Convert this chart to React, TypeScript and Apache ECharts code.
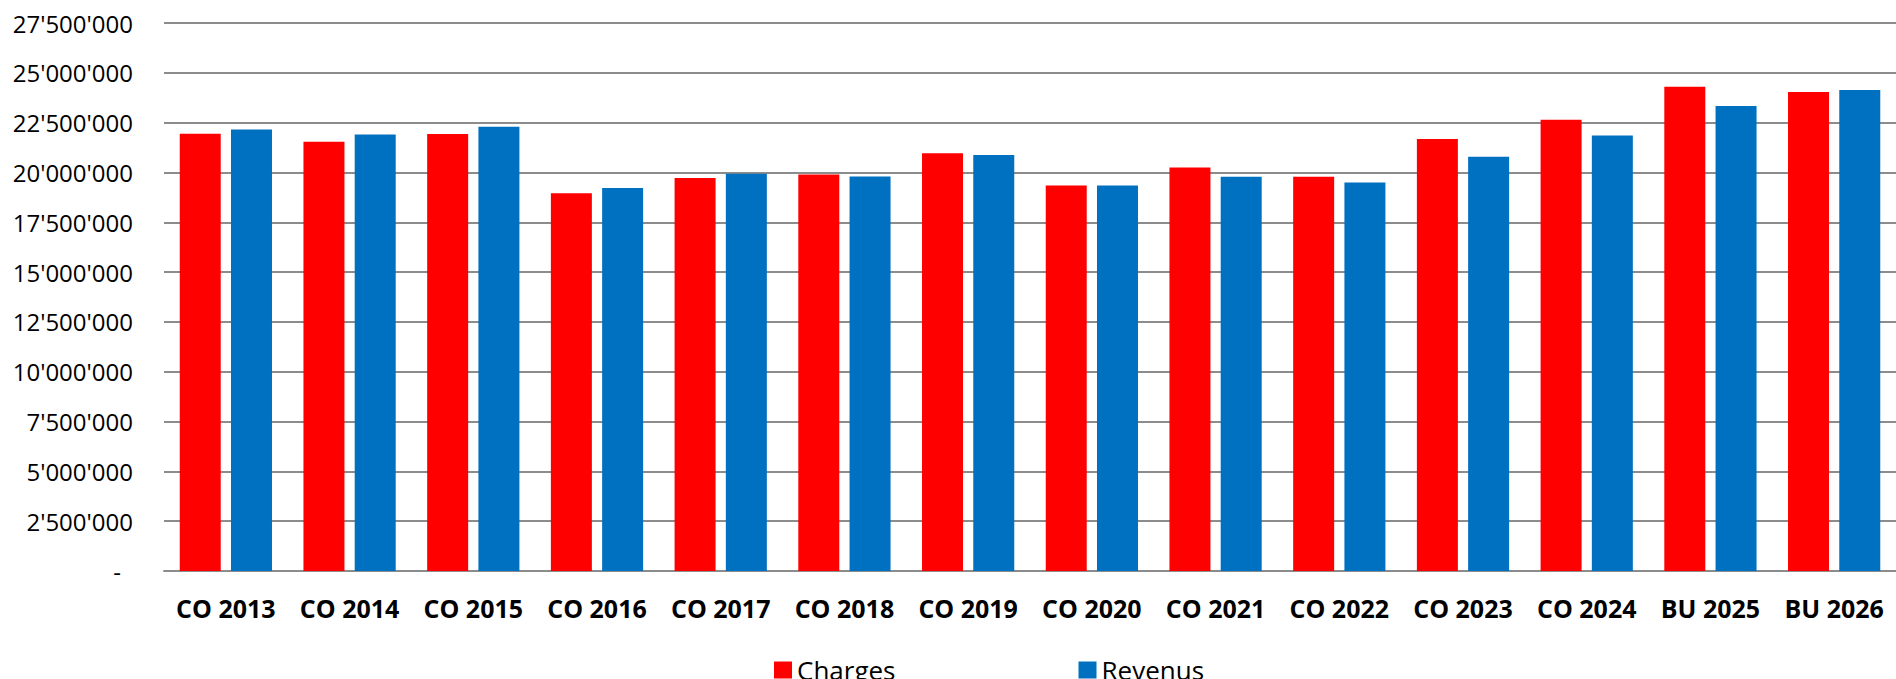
import React, { useEffect, useRef } from "react";
import * as echarts from "echarts";

const categories = [
  "CO 2013", "CO 2014", "CO 2015", "CO 2016", "CO 2017", "CO 2018", "CO 2019",
  "CO 2020", "CO 2021", "CO 2022", "CO 2023", "CO 2024", "BU 2025", "BU 2026",
];
const charges = [
  21940000, 21540000, 21930000, 18960000, 19720000, 19900000, 20970000,
  19350000, 20250000, 19780000, 21680000, 22650000, 24300000, 24040000,
];
const revenus = [
  22160000, 21910000, 22290000, 19220000, 19930000, 19800000, 20870000,
  19340000, 19780000, 19500000, 20790000, 21860000, 23330000, 24140000,
];
const seriesNames = ["Charges", "Revenus"];
const yMax = 27500000;
const yInterval = 2500000;

function fmt(v: number): string {
  if (v === 0) return "{z|-}";
  return String(Math.round(v)).replace(/\B(?=(\d{3})+(?!\d))/g, "'");
}

export default function App() {
  const ref = useRef<HTMLDivElement>(null);
  useEffect(() => {
    if (!ref.current) return;
    const chart = echarts.init(ref.current, null, { renderer: "svg" });
    chart.setOption({
      animation: false,
      backgroundColor: "#ffffff",
      grid: { left: 164, right: 0, top: 23, bottom: 108, containLabel: false },
      legend: {
        left: 769,
        top: 652,
        itemWidth: 18,
        itemHeight: 17,
        itemGap: 183,
        icon: "rect",
        textStyle: { fontFamily: "Open Sans", fontSize: 26, color: "#000" },
        data: seriesNames,
      },
      xAxis: {
        type: "category",
        data: categories,
        axisTick: { show: false },
        axisLine: { lineStyle: { color: "#8c8c8c", width: 2 } },
        axisLabel: {
          margin: 24,
          fontFamily: "Open Sans",
          fontWeight: "bold",
          fontSize: 25,
          color: "#000",
          interval: 0,
        },
      },
      yAxis: {
        type: "value",
        min: 0,
        max: yMax,
        interval: yInterval,
        axisLine: { show: false },
        axisTick: { show: false },
        splitLine: { lineStyle: { color: "#8c8c8c", width: 2 } },
        axisLabel: {
          margin: 31,
          fontFamily: "Open Sans",
          fontSize: 24,
          color: "#000",
          formatter: fmt,
          rich: {
            z: { fontFamily: "Open Sans", fontSize: 24, color: "#000", padding: [0, 12, 0, 0] },
          },
        },
      },
      series: [
        {
          name: seriesNames[0],
          type: "bar",
          data: charges,
          barWidth: 41,
          barGap: "25%",
          itemStyle: { color: "#FF0000" },
        },
        {
          name: seriesNames[1],
          type: "bar",
          data: revenus,
          barWidth: 41,
          barGap: "25%",
          itemStyle: { color: "#0070C0" },
        },
      ],
    });
    return () => chart.dispose();
  }, []);
  return (
    <div
      ref={ref}
      style={{ position: "fixed", left: 0, top: 0, width: 1896, height: 679 }}
    />
  );
}
